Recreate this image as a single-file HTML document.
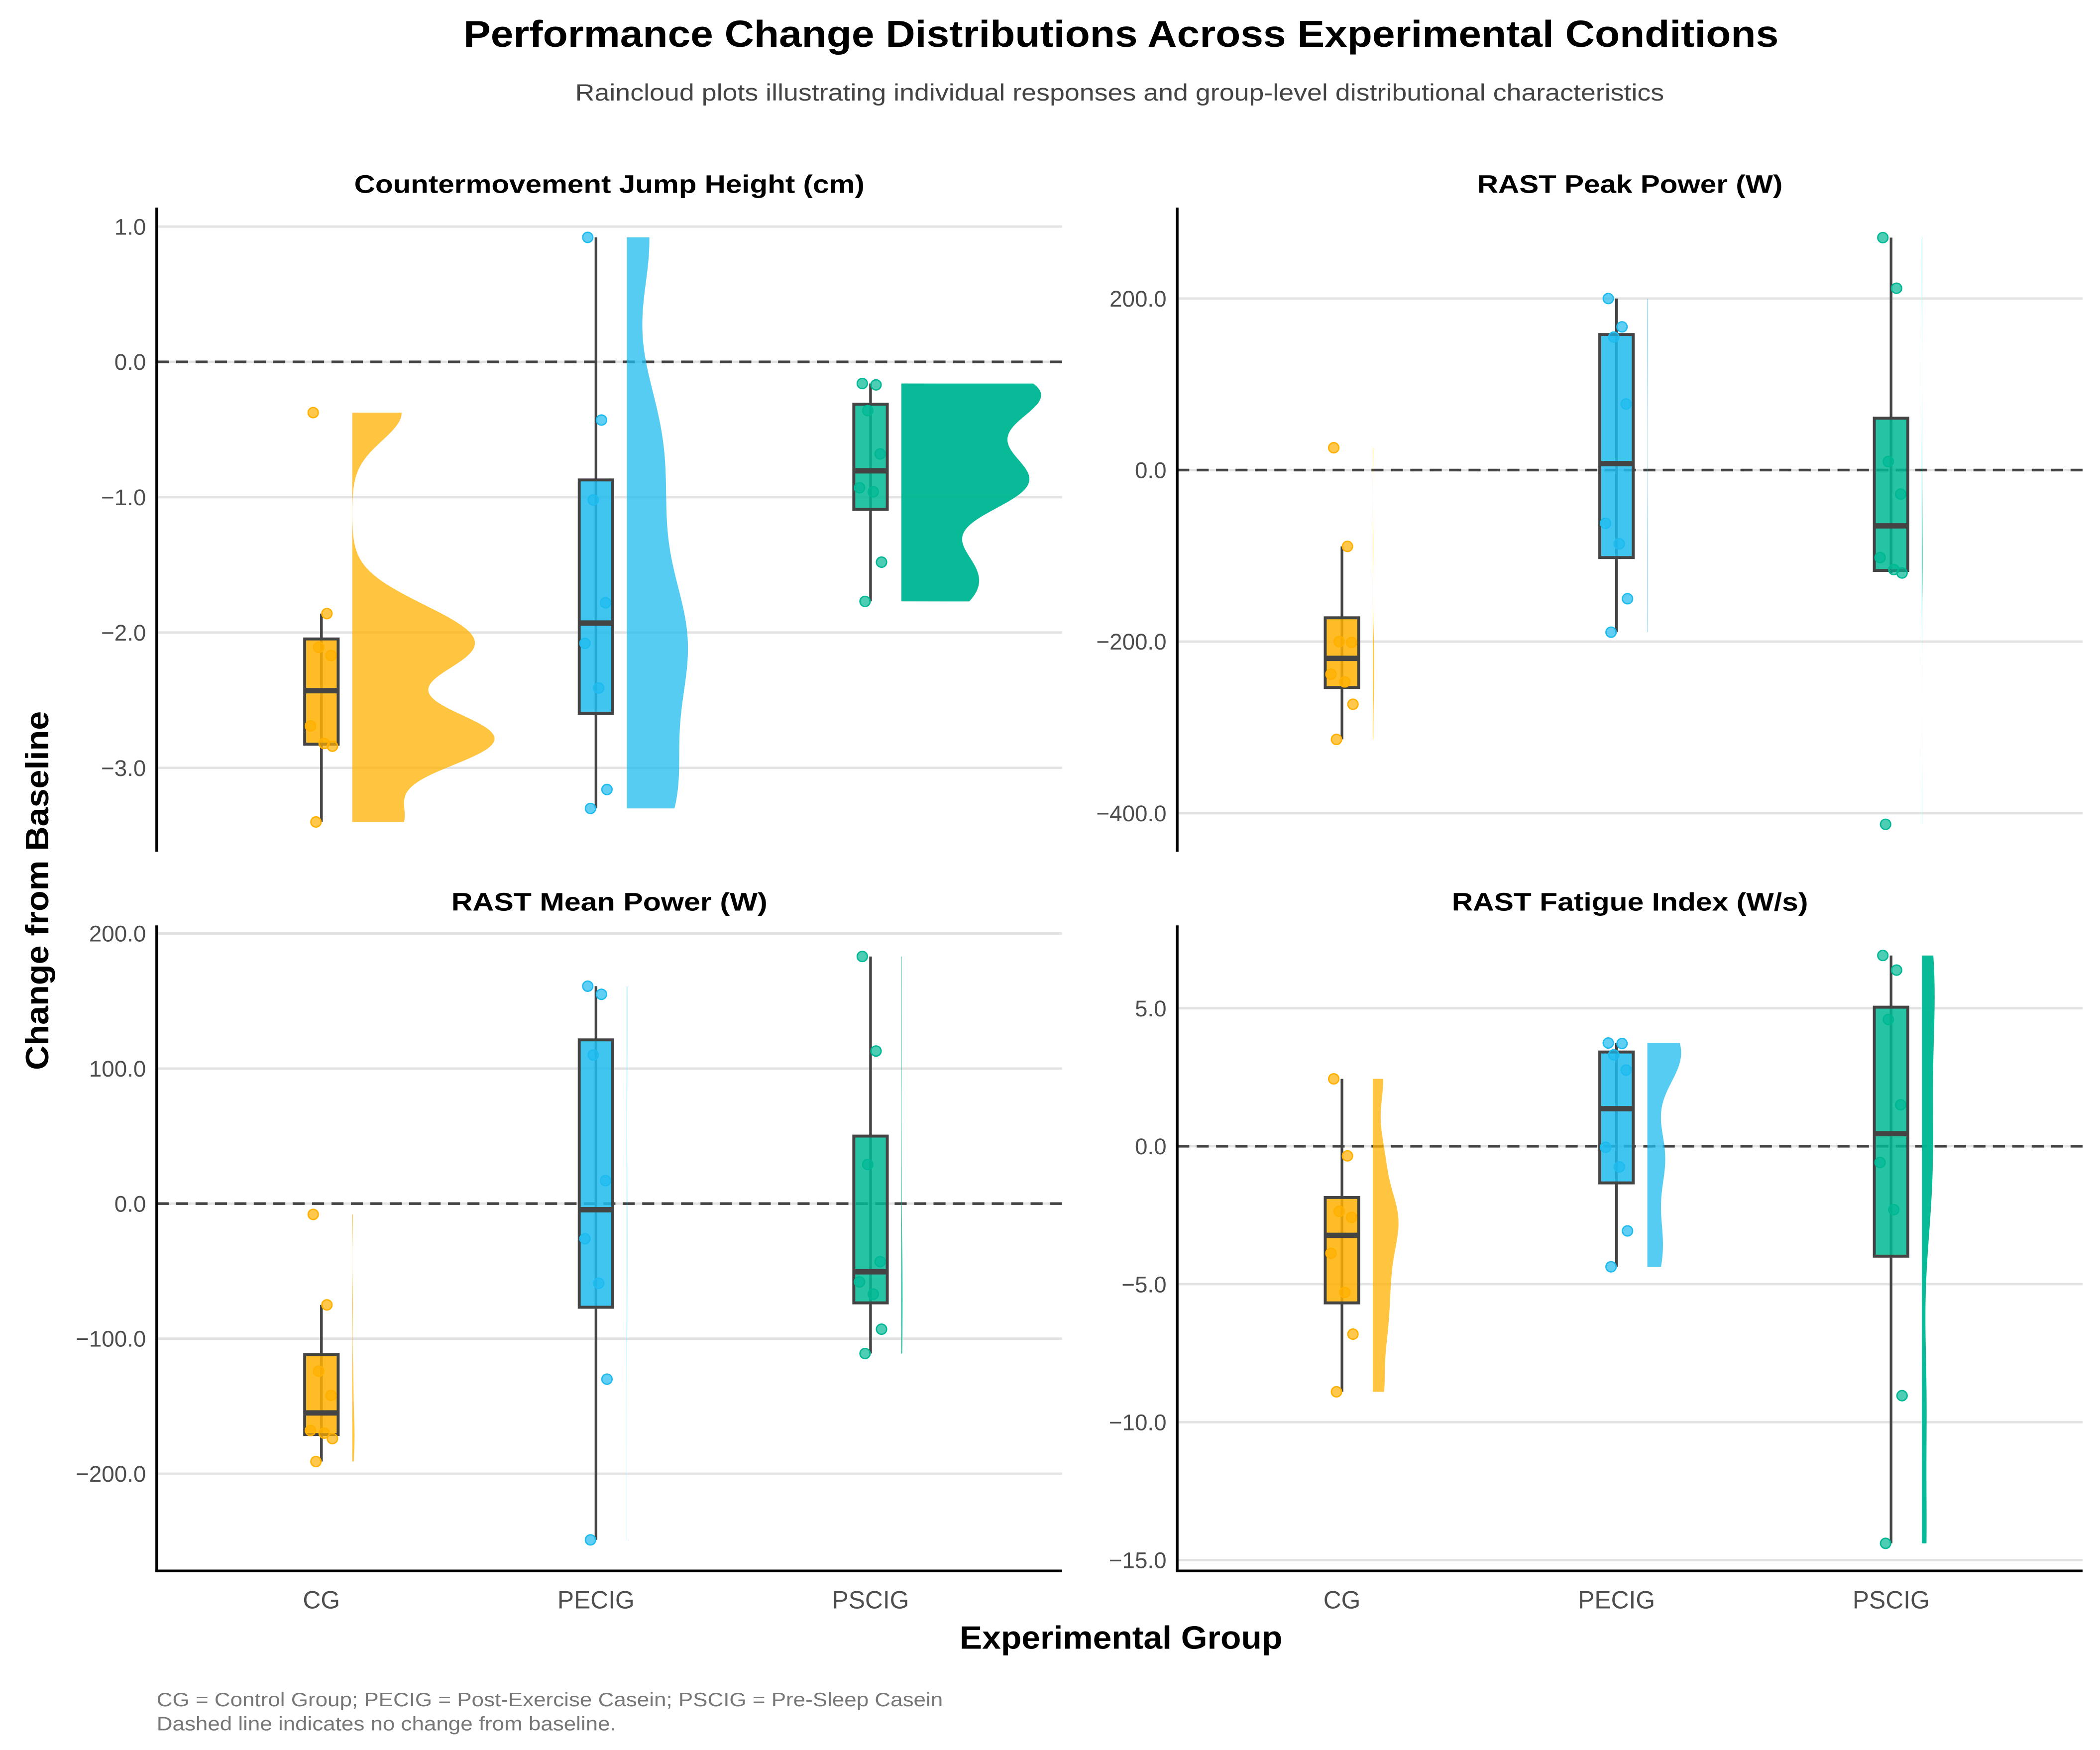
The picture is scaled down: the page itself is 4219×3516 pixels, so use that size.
<!DOCTYPE html>
<html><head><meta charset="utf-8"><style>
html,body{margin:0;padding:0;background:#fff}
svg{display:block;font-family:"Liberation Sans",Arial,sans-serif}
</style></head><body>
<svg id="chart" width="4219" height="3516" viewBox="0 0 1568 1306.7" xmlns="http://www.w3.org/2000/svg">
<text x="837" y="35" text-anchor="middle" font-size="28" font-weight="bold" fill="#000" textLength="982" lengthAdjust="spacingAndGlyphs">Performance Change Distributions Across Experimental Conditions</text>
<text x="836" y="75" text-anchor="middle" font-size="17.5" fill="#444" textLength="813" lengthAdjust="spacingAndGlyphs">Raincloud plots illustrating individual responses and group-level distributional characteristics</text>
<text transform="translate(36,665) rotate(-90)" text-anchor="middle" font-size="24" font-weight="bold" fill="#000" textLength="268" lengthAdjust="spacingAndGlyphs">Change from Baseline</text>
<text x="837" y="1231" text-anchor="middle" font-size="24" font-weight="bold" fill="#000" textLength="241" lengthAdjust="spacingAndGlyphs">Experimental Group</text>
<text x="117" y="1274" font-size="14.5" fill="#777" textLength="587" lengthAdjust="spacingAndGlyphs">CG = Control Group; PECIG = Post-Exercise Casein; PSCIG = Pre-Sleep Casein</text>
<text x="117" y="1292" font-size="14.5" fill="#777" textLength="343" lengthAdjust="spacingAndGlyphs">Dashed line indicates no change from baseline.</text>
<g id="panels"></g>
</svg>
<script>
const categories = ["CG", "PECIG", "PSCIG"];
const cmjCG = [-0.375, -1.86, -2.11, -2.17, -2.69, -2.82, -2.84, -3.40];
const cmjPECIG = [0.92, -0.43, -1.02, -1.78, -2.08, -2.41, -3.16, -3.30];
const cmjPSCIG = [-0.16, -0.17, -0.36, -0.68, -0.93, -0.96, -1.48, -1.77];
const peakCG = [26, -89, -200, -201, -238, -247, -273, -314];
const peakPECIG = [200, 167, 155, 77, -62, -86, -150, -189];
const peakPSCIG = [271, 212, 10, -28, -102, -116, -120, -413];
const meanCG = [-8, -75, -124, -142, -168, -170, -174, -191];
const meanPECIG = [161, 155, 110, 17, -26, -59, -130, -249];
const meanPSCIG = [183, 113, 29, -43, -58, -67, -93, -111];
const fatCG = [2.44, -0.35, -2.36, -2.58, -3.88, -5.30, -6.81, -8.90];
const fatPECIG = [3.74, 3.72, 3.31, 2.76, -0.04, -0.75, -3.07, -4.37];
const fatPSCIG = [6.91, 6.38, 4.59, 1.50, -0.59, -2.30, -9.04, -14.39];
const cmjTicks = [1.0, 0.0, -1.0, -2.0, -3.0];
const peakTicks = [200, 0, -200, -400];
const meanTicks = [200, 100, 0, -100, -200];
const fatTicks = [5, 0, -5, -10, -15];
const colors = ["#FFB000", "#1EBBEE", "#00B894"];

const NS = "http://www.w3.org/2000/svg";
const root = document.getElementById("panels");
function mk(tag, attrs, parent){const e=document.createElementNS(NS,tag);for(const k in attrs)e.setAttribute(k,attrs[k]);(parent||root).appendChild(e);return e;}
function quant(s,p){const pos=(s.length-1)*p;const lo=Math.floor(pos);const hi=Math.ceil(pos);return s[lo]+(s[hi]-s[lo])*(pos-lo);}
function sd(a){const m=a.reduce((x,y)=>x+y,0)/a.length;return Math.sqrt(a.reduce((x,y)=>x+(y-m)*(y-m),0)/(a.length-1));}

const panels = [
 {name:"cmj", title:"Countermovement Jump Height (cm)", tw:381, data:[cmjCG,cmjPECIG,cmjPSCIG], ticks:cmjTicks, dom:[-3.62,1.14], x0:117, x1:793, y0:155, y1:636, xaxis:false},
 {name:"peak-power", title:"RAST Peak Power (W)", tw:228, data:[peakCG,peakPECIG,peakPSCIG], ticks:peakTicks, dom:[-445,306], x0:879, x1:1555, y0:155, y1:636, xaxis:false},
 {name:"mean-power", title:"RAST Mean Power (W)", tw:236, data:[meanCG,meanPECIG,meanPSCIG], ticks:meanTicks, dom:[-272,206], x0:117, x1:793, y0:691, y1:1173, xaxis:true},
 {name:"fatigue-index", title:"RAST Fatigue Index (W/s)", tw:266, data:[fatCG,fatPECIG,fatPSCIG], ticks:fatTicks, dom:[-15.39,8.0], x0:879, x1:1555, y0:691, y1:1173, xaxis:true}
];
const jit=[-0.03,0.02,-0.01,0.035,-0.04,0.01,0.04,-0.02];

panels.forEach(p=>{
  const g=mk("g",{});
  
  
  const Y=v=>p.y1-(v-p.dom[0])/(p.dom[1]-p.dom[0])*(p.y1-p.y0);
  const step=205;
  const X=i=>p.x0+123+i*step;
  const t=mk("text",{x:(p.x0+p.x1)/2,y:p.y0-11,"text-anchor":"middle","font-size":"19","font-weight":"bold",fill:"#000",textLength:p.tw,lengthAdjust:"spacingAndGlyphs"},g);
  t.textContent=p.title;
  
  
  p.ticks.forEach(v=>{
    const gl=mk("line",{x1:p.x0,x2:p.x1,y1:Y(v),y2:Y(v),stroke:"#e3e3e3","stroke-width":"1.8"},g);
    
    
    const tl=mk("text",{x:p.x0-8,y:Y(v)+6,"text-anchor":"end","font-size":"17",fill:"#4d4d4d"},g);
    tl.textContent=(v<0?"\u2212":"")+Math.abs(v).toFixed(1);
    
    
  });
  const zl=mk("line",{x1:p.x0,x2:p.x1,y1:Y(0),y2:Y(0),stroke:"#444","stroke-width":"2","stroke-dasharray":"9,5.5"},g);
  
  
  p.data.forEach((arr,i)=>{
    const c=colors[i], cx=X(i);
    const s=[...arr].sort((a,b)=>a-b), n=s.length;
    const q1=quant(s,0.25), q3=quant(s,0.75), iqr=q3-q1;
    const bw=0.6*0.9*Math.min(sd(s), iqr/1.34)*Math.pow(n,-0.2);
    const lo=s[0], hi=s[n-1], pts=[];
    const vx=cx+23;
    for(let k=0;k<=200;k++){const y=lo+(hi-lo)*k/200;let d=0;s.forEach(xi=>{const z=(y-xi)/bw;d+=Math.exp(-0.5*z*z);});d=d/(n*bw*Math.sqrt(2*Math.PI));pts.push([vx+d*153,Y(y)]);}
    let dstr="M"+vx+","+Y(lo)+" "+pts.map(q=>"L"+q[0].toFixed(2)+","+q[1].toFixed(2)).join(" ")+" L"+vx+","+Y(hi)+"Z";
    const vi=mk("path",{d:dstr,fill:c,"fill-opacity":i==2?"0.97":"0.75",stroke:"none"},g);
    
    
    const med=quant(s,0.5);
    const wlo=s.find(v=>v>=q1-1.5*iqr), whi=[...s].reverse().find(v=>v<=q3+1.5*iqr);
    const wh=mk("line",{x1:cx,x2:cx,y1:Y(wlo),y2:Y(whi),stroke:"#444","stroke-width":"2"},g);
    
    
    const bx=mk("rect",{x:cx-12.5,y:Y(q3),width:25,height:Y(q1)-Y(q3),fill:c,"fill-opacity":"0.85",stroke:"#444","stroke-width":"2.2"},g);
    
    
    const md=mk("line",{x1:cx-12.5,x2:cx+12.5,y1:Y(med),y2:Y(med),stroke:"#444","stroke-width":"4"},g);
    
    
    arr.forEach((v,j)=>{
      const pt=mk("circle",{cx:cx+jit[j]*step,cy:Y(v),r:3.8,fill:c,"fill-opacity":"0.7",stroke:c,"stroke-width":"1"},g);
      
      
    });
    if(p.xaxis){
      const xl=mk("text",{x:cx,y:p.y1+28,"text-anchor":"middle","font-size":"18.5",fill:"#4d4d4d"},g);
      xl.textContent=categories[i];
      
      
    }
  });
  const ya=mk("line",{x1:p.x0,x2:p.x0,y1:p.y0,y2:p.y1+(p.xaxis?1:0),stroke:"#000","stroke-width":"2"},g);
  
  
  if(p.xaxis){
    const xa=mk("line",{x1:p.x0-1,x2:p.x1,y1:p.y1,y2:p.y1,stroke:"#000","stroke-width":"2"},g);
    
    
  }
});
</script>
</body></html>
